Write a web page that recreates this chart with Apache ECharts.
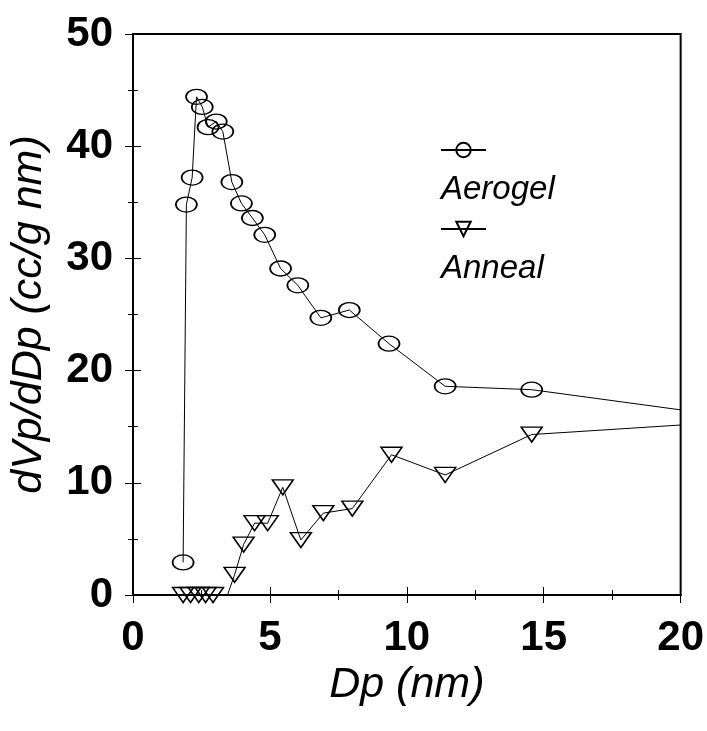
<!DOCTYPE html>
<html>
<head>
<meta charset="utf-8">
<script src="https://cdn.jsdelivr.net/npm/echarts@6/dist/echarts.min.js"></script>
<style>
  html, body { margin: 0; padding: 0; background: #fff; }
  #chart { width: 707px; height: 731px; }
</style>
</head>
<body>
<div id="chart"></div>
<script>
"use strict";

// pore diameter Dp (nm) and dVp/dDp (cc/g nm)
var aerogelDp  = [1.83, 1.95, 2.16, 2.32, 2.53, 2.74, 3.04, 3.28, 3.61, 3.96, 4.36, 4.81, 5.39, 6.02, 6.86, 7.9, 9.35, 11.4, 14.56, 20];
var aerogelVal = [2.9, 34.8, 37.2, 44.4, 43.5, 41.7, 42.2, 41.3, 36.8, 34.9, 33.6, 32.1, 29.1, 27.6, 24.7, 25.4, 22.4, 18.6, 18.3, 16.5];

var annealDp  = [1.83, 2.1, 2.4, 2.65, 2.92, 3.45, 3.71, 4.04, 4.44, 4.92, 5.47, 6.13, 6.95, 8.01, 9.44, 11.4, 14.56, 20];
var annealVal = [0, 0, 0, 0, 0, 0, 1.8, 4.5, 6.4, 6.4, 9.6, 4.9, 7.3, 7.7, 12.5, 10.7, 14.3, 15.15];

// points where the line runs on with no marker drawn
var aerogelNoMark = [20];
var annealNoMark = [3.45, 20];

var xTicks = [0, 5, 10, 15, 20];
var yTicks = [0, 10, 20, 30, 40, 50];

var FONT = "'Liberation Sans', Arial, sans-serif";

function pairs(xs, ys, noMark) {
    return xs.map(function (x, i) {
        if (noMark.indexOf(x) >= 0) {
            return { value: [x, ys[i]], symbol: 'none' };
        }
        return [x, ys[i]];
    });
}

var chart = echarts.init(document.getElementById('chart'), null, { renderer: 'canvas' });

var axisCommon = {
    type: 'value',
    axisLine: { show: true, lineStyle: { color: '#000', width: 2 } },
    splitLine: { show: false }
};

// legend: icon on one line, italic name underneath it
// (an empty tall first line pushes the name below the icon)
function legendFor(name, top) {
    return {
        orient: 'vertical',
        left: 440, top: top,
        padding: 0,
        itemWidth: 45, itemHeight: 18,
        data: [name],
        formatter: function (n) { return '{gap| }\n{n|' + n + '}'; },
        textStyle: {
            fontFamily: FONT, fontStyle: 'italic', fontSize: 33, color: '#000',
            padding: [0, 0, 0, -50],
            rich: {
                gap: { fontSize: 10, lineHeight: 80 },
                n: { fontFamily: FONT, fontStyle: 'italic', fontSize: 33, lineHeight: 40, color: '#000' }
            }
        }
    };
}

var option = {
    backgroundColor: '#fff',
    animation: false,
    grid: {
        left: 131, right: 22, top: 34, bottom: 136,
        show: true, borderColor: '#000', borderWidth: 2
    },
    legend: [legendFor('Aerogel', 125), legendFor('Anneal', 204)],
    xAxis: [
        Object.assign({}, axisCommon, {
            min: 0, max: 20, interval: 5,
            axisTick: { show: true, length: 8, lineStyle: { color: '#000', width: 1 } },
            minorTick: { show: true, splitNumber: 2, length: 5, lineStyle: { color: '#000' } },
            axisLabel: {
                fontFamily: FONT, fontWeight: 'bold', fontSize: 42, color: '#000', margin: 22,
                formatter: function (v) { return xTicks.indexOf(v) >= 0 ? String(v) : ''; }
            },
            name: 'Dp (nm)', nameLocation: 'middle', nameGap: 68,
            nameTextStyle: { fontFamily: FONT, fontStyle: 'italic', fontSize: 43, color: '#000' }
        }),
        Object.assign({}, axisCommon, {
            min: 0, max: 20, interval: 5, position: 'bottom',
            axisTick: { show: true, inside: true, length: 8, lineStyle: { color: '#000', width: 1 } },
            minorTick: { show: true, splitNumber: 2, length: 5, lineStyle: { color: '#000' } },
            axisLabel: { show: false }
        })
    ],
    yAxis: [
        Object.assign({}, axisCommon, {
            min: 0, max: 50, interval: 10,
            axisTick: { show: true, length: 8, lineStyle: { color: '#000', width: 1 } },
            minorTick: { show: true, splitNumber: 2, length: 5, lineStyle: { color: '#000' } },
            axisLabel: {
                fontFamily: FONT, fontWeight: 'bold', fontSize: 42, color: '#000', margin: 20,
                formatter: function (v) { return yTicks.indexOf(v) >= 0 ? String(v) : ''; }
            },
            name: 'dVp/dDp (cc/g nm)', nameLocation: 'middle', nameGap: 82,
            nameTextStyle: { fontFamily: FONT, fontStyle: 'italic', fontSize: 43, color: '#000' }
        }),
        Object.assign({}, axisCommon, {
            min: 0, max: 50, interval: 10, position: 'left',
            axisTick: { show: true, inside: true, length: 8, lineStyle: { color: '#000', width: 1 } },
            minorTick: { show: true, splitNumber: 2, length: 5, lineStyle: { color: '#000' } },
            axisLabel: { show: false }
        })
    ],
    series: [
        {
            name: 'Aerogel',
            type: 'line',
            data: pairs(aerogelDp, aerogelVal, aerogelNoMark),
            symbol: 'circle',
            symbolSize: [21, 15],
            showAllSymbol: true,
            lineStyle: { color: '#000', width: 1 },
            itemStyle: { color: 'rgba(255,255,255,0)', borderColor: '#000', borderWidth: 1.5 },
            z: 3
        },
        {
            name: 'Anneal',
            type: 'line',
            data: pairs(annealDp, annealVal, annealNoMark),
            symbol: 'triangle',
            symbolRotate: 180,
            symbolSize: [21, 15],
            showAllSymbol: true,
            lineStyle: { color: '#000', width: 1 },
            itemStyle: { color: 'rgba(255,255,255,0)', borderColor: '#000', borderWidth: 1.5 },
            z: 3
        }
    ]
};

chart.setOption(option);
</script>
</body>
</html>
